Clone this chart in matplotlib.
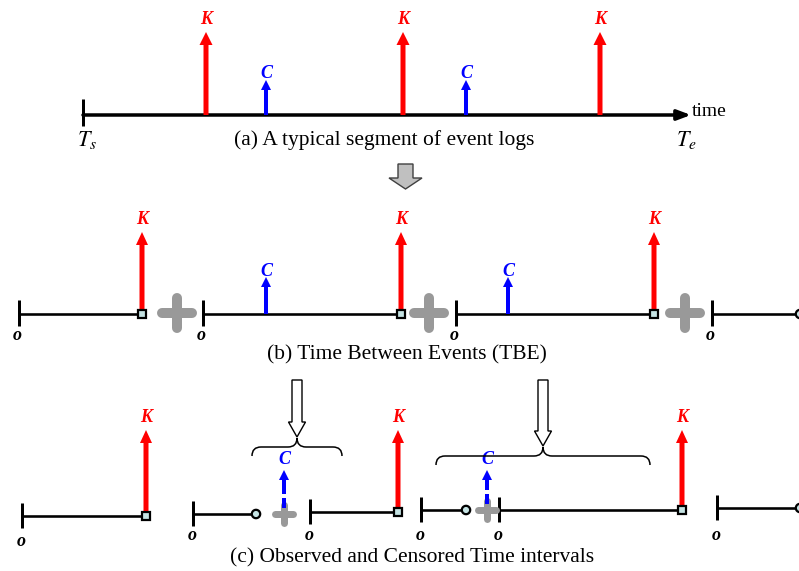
import matplotlib
matplotlib.use("Agg")
import matplotlib.pyplot as plt
from matplotlib.patches import Polygon, PathPatch, Rectangle, Circle
from matplotlib.path import Path

plt.rcParams['font.family'] = ['Liberation Serif', 'DejaVu Serif']
plt.rcParams['mathtext.fontset'] = 'stix'

# ---------------- data (diagram layout, in pixel units) ----------------
# Panel (a): a typical segment of event logs
a_axis_y = 115
a_start, a_end = 83, 691
a_K_events = [206, 403, 600]
a_C_events = [266, 466]

# Panel (b): time between events
b_axis_y = 314
b_seg_starts = [19, 203, 456, 712]
b_seg_ends = [142, 401, 654, 797]
b_seg_end_kind = ['K', 'K', 'K', 'open']
b_C_events = [266, 508]
b_plus = [177, 429, 685]

# Panel (c): observed and censored time intervals
c_seg_starts = [22, 193, 310, 421, 499, 717]
c_seg_ends = [146, 256, 398, 466, 682, 797]
c_seg_y = [516, 514, 512, 510, 510, 508]
c_seg_end_kind = ['K', 'C', 'K', 'C', 'K', 'open']
c_C_plus = [284, 487]
c_braces = [(252, 342, 447), (436, 650, 456)]

captions = ["(a) A typical segment of event logs",
            "(b) Time Between Events (TBE)",
            "(c) Observed and Censored Time intervals"]

RED = '#ff0000'
BLUE = '#0000ff'
GRAY = '#999999'
MARK = '#c5e3e3'

fig = plt.figure(figsize=(7.99, 5.71), dpi=100)
ax = fig.add_axes([0, 0, 1, 1])
ax.set_xlim(0, 799)
ax.set_ylim(571, 0)
ax.axis('off')

PX = 0.72  # points per pixel


def up_arrow(x, y0, y1, color, shaft, hw, hl, z=3):
    ax.arrow(x, y0, 0, y1 - y0, width=shaft, head_width=hw, head_length=hl,
             length_includes_head=True, color=color, lw=0, zorder=z)


def label(x, y, s, color, size=13):
    ax.text(x, y, s, color=color, fontsize=size, fontweight='bold',
            fontstyle='italic', ha='center', va='center')


def tick(x, y, half=13, lw=3):
    ax.plot([x, x], [y - half, y + half], color='black', lw=lw * PX,
            solid_capstyle='butt', zorder=2)


def plus(x, y, arm, lw, z=4):
    ax.plot([x - arm, x + arm], [y, y], color=GRAY, lw=lw * PX,
            solid_capstyle='round', zorder=z)
    ax.plot([x, x], [y - arm, y + arm], color=GRAY, lw=lw * PX,
            solid_capstyle='round', zorder=z)


def square(x, y, s=8):
    ax.add_patch(Rectangle((x - s / 2, y - s / 2), s, s, facecolor=MARK,
                           edgecolor='black', lw=1.6, zorder=5))


def circle(x, y, r=4.2):
    ax.add_patch(Circle((x, y), r, facecolor=MARK, edgecolor='black',
                        lw=1.6, zorder=5))


def block_arrow(xc, ytop, ybot, sw, hw, hl, fc, ec):
    pts = [(xc - sw / 2, ytop), (xc + sw / 2, ytop), (xc + sw / 2, ybot - hl),
           (xc + hw / 2, ybot - hl), (xc, ybot), (xc - hw / 2, ybot - hl),
           (xc - sw / 2, ybot - hl)]
    ax.add_patch(Polygon(pts, closed=True, facecolor=fc, edgecolor=ec,
                         lw=1.0, zorder=3))


def brace(x0, x1, yh, depth=9, r=9):
    xm = (x0 + x1) / 2
    ye = yh + depth
    yt = yh - depth
    verts = [(x0, ye), (x0, yh), (x0 + r, yh),
             (xm - r, yh), (xm, yh), (xm, yt),
             (xm, yh), (xm + r, yh),
             (x1 - r, yh), (x1, yh), (x1, ye)]
    codes = [Path.MOVETO, Path.CURVE3, Path.CURVE3,
             Path.LINETO, Path.CURVE3, Path.CURVE3,
             Path.CURVE3, Path.CURVE3,
             Path.LINETO, Path.CURVE3, Path.CURVE3]
    ax.add_patch(PathPatch(Path(verts, codes), facecolor='none',
                           edgecolor='black', lw=1.1, zorder=3))
    return xm, yt


# ---------------- Panel (a) ----------------
ax.annotate('', xy=(a_end, a_axis_y), xytext=(a_start, a_axis_y),
            arrowprops=dict(arrowstyle='-|>,head_length=0.8,head_width=0.3',
                            color='black', lw=3.5 * PX, shrinkA=0, shrinkB=0),
            zorder=2)
tick(a_start, a_axis_y - 3, half=13.5, lw=3)
for x in a_K_events:
    up_arrow(x, a_axis_y, 32, RED, 5, 13, 13)
    label(x, 19, 'K', RED)
for x in a_C_events:
    up_arrow(x, a_axis_y, 80, BLUE, 4, 10, 10)
    label(x, 73, 'C', BLUE)
ax.text(692, 112, 'time', fontsize=14, ha='left', va='center')
ax.text(87, 140, r'$T_s$', fontsize=16, ha='center', va='center')
ax.text(686, 140, r'$T_e$', fontsize=16, ha='center', va='center')
ax.text(384, 140, captions[0], fontsize=15.5, ha='center', va='center')

block_arrow(405.5, 164, 189, 15, 33, 11, '#c0c0c0', '#404040')

# ---------------- Panel (b) ----------------
for s, e, kind in zip(b_seg_starts, b_seg_ends, b_seg_end_kind):
    ax.plot([s, min(e, 799)], [b_axis_y, b_axis_y], color='black',
            lw=2.6 * PX, zorder=2)
    tick(s, b_axis_y - 1, half=13)
    ax.text(s - 2, 335, 'o', fontsize=13, fontweight='bold',
            fontstyle='italic', ha='center', va='center')
    if kind == 'K':
        up_arrow(e, b_axis_y, 232, RED, 5, 12, 13)
        label(e, 219, 'K', RED)
        square(e, b_axis_y)
    else:
        circle(e + 3, b_axis_y)
for x in b_C_events:
    up_arrow(x, b_axis_y, 277, BLUE, 4, 10, 10)
    label(x, 271, 'C', BLUE)
for x in b_plus:
    plus(x, b_axis_y - 1, 15, 10)
ax.text(407, 355, captions[1], fontsize=15.5, ha='center', va='center')

# ---------------- Panel (c) ----------------
for s, e, y, kind in zip(c_seg_starts, c_seg_ends, c_seg_y, c_seg_end_kind):
    ax.plot([s, min(e, 799)], [y, y], color='black', lw=2.6 * PX, zorder=2)
    tick(s, y - 1, half=12.5)
    ax.text(s - 1, 535 if s > 100 else 541, 'o', fontsize=13,
            fontweight='bold', fontstyle='italic', ha='center', va='center')
    if kind == 'K':
        up_arrow(e, y, 430, RED, 5, 12, 13)
        label(e, 417, 'K', RED)
        square(e, y)
    elif kind == 'C':
        circle(e, y)
    else:
        circle(e + 3, y)

for i, x in enumerate(c_C_plus):
    y = c_seg_y[1 + 2 * i]
    plus(x, y, 9, 7, z=4)
    ax.plot([x, x], [y - 6, 482], color=BLUE, lw=4 * PX, zorder=6,
            linestyle=(0, (2.5, 1.0)), solid_capstyle='butt',
            dash_capstyle='butt')
    up_arrow(x, 484, 470, BLUE, 4, 10, 10, z=6)
    label(x, 460, 'C', BLUE)

for (x0, x1, yh) in c_braces:
    xm, yt = brace(x0, x1, yh)
    block_arrow(xm, 380, yt - 1, 10, 17, 15, 'white', 'black')

ax.text(412, 558, captions[2], fontsize=15.5, ha='center', va='center')

fig.savefig('out.png', dpi=100)
